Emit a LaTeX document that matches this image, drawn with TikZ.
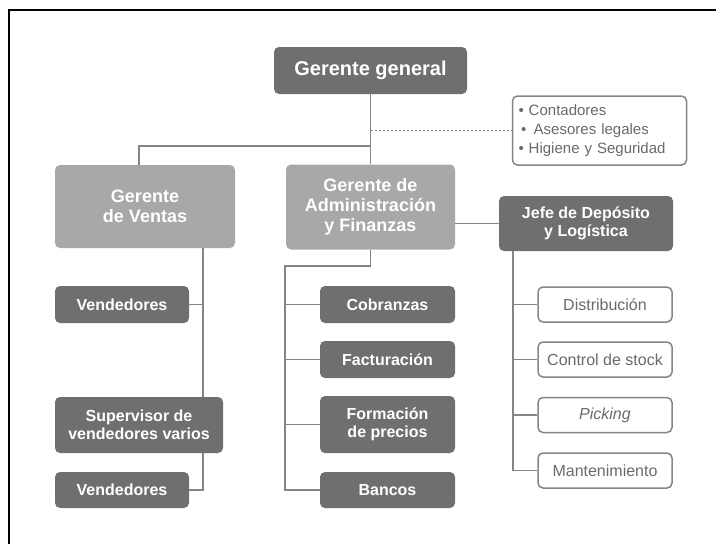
\documentclass[tikz,border=0pt]{standalone}
\usepackage{fontspec}
\setmainfont{Liberation Sans}
\definecolor{darkbox}{HTML}{6F6F6F}
\definecolor{lightbox}{HTML}{A8A8A8}
\definecolor{linegray}{HTML}{858585}
\definecolor{txtgray}{HTML}{6A6A6A}
\tikzset{
  box/.style={rounded corners=5pt, inner sep=0pt, align=center, text=white,
    font=\bfseries\fontsize{16}{18}\selectfont},
  darkb/.style={box, fill=darkbox},
  lightb/.style={box, fill=lightbox, font=\bfseries\fontsize{18}{20}\selectfont},
  whiteb/.style={box, draw=linegray, line width=1.5pt, fill=white, text=txtgray,
    font=\fontsize{16}{18}\selectfont},
  conn/.style={draw=linegray, line width=1.6pt},
  midb/.style={darkb, minimum width=135pt},
  rightb/.style={whiteb, minimum width=134pt, minimum height=35pt},
}
\begin{document}
\begin{tikzpicture}[x=1pt,y=-1pt]
\useasboundingbox (0,0) rectangle (716,544);
\draw[line width=1.6pt] (9,544) -- (9,10) -- (716,10);

% top
\node[darkb, minimum width=193pt, minimum height=47pt,
  font=\bfseries\fontsize{20}{22}\selectfont] (gg) at (370.5,70.5) {Gerente general};
\node[whiteb, align=left, text width=162pt, inner xsep=6pt, minimum height=69pt,
  font=\fontsize{15}{19}\selectfont] (notes) at (599.5,130.5)
  {• Contadores\\\,• \,Asesores legales\\• Higiene y Seguridad};

% second level
\node[lightb, minimum width=180pt, minimum height=83pt] (gv) at (145,206.5) {Gerente\\de Ventas};
\node[lightb, minimum width=169pt, minimum height=85pt] (gaf) at (370.5,207)
  {Gerente de\\Administración\\y Finanzas};
\node[darkb, minimum width=174pt, minimum height=55pt] (jefe) at (586,223.5)
  {Jefe de Depósito\\y Logística};

% left column
\node[darkb, minimum width=134pt, minimum height=37pt] (v1) at (122,304.5) {Vendedores};
\node[darkb, minimum width=168pt, minimum height=56pt] (sup) at (139,425)
  {Supervisor de\\vendedores varios};
\node[darkb, minimum width=134pt, minimum height=36pt] (v2) at (122,490) {Vendedores};

% middle column
\node[midb, minimum height=37pt] (cob) at (387.5,304.5) {Cobranzas};
\node[midb, minimum height=37pt] (fac) at (387.5,359.5) {Facturación};
\node[midb, minimum height=57pt] (form) at (387.5,424.5) {Formación\\de precios};
\node[midb, minimum height=36pt] (ban) at (387.5,490) {Bancos};

% right column
\node[rightb] (dis) at (605,304.5) {Distribución};
\node[rightb] (ctrl) at (605,359.5) {Control de stock};
\node[rightb] (pick) at (605,415) {\itshape Picking};
\node[rightb] (mant) at (605,470.5) {Mantenimiento};

% connectors
\coordinate (j1) at (370.5,146);
\coordinate (lx) at (203,0);
\coordinate (mx) at (285,0);
\coordinate (rx) at (513,0);

\draw[conn] (gg.south) -- (gaf.north);
\draw[conn] (j1) -| ([xshift=-6pt]gv.north);
\draw[conn, line width=1.3pt, dash pattern=on 2pt off 2pt] (gg.south |- notes.west) -- (notes.west);
\draw[conn] (gaf.east |- jefe.west) -- (jefe.west);

\draw[conn] (gv.south -| lx) -- (sup.north -| lx);
\draw[conn] (v1.east) -- (v1.east -| lx);
\draw[conn] (sup.south -| lx) |- (v2.east);

\draw[conn] (gaf.south) -- ++(0,16) -| (ban.west -| mx) -- (ban.west);
\foreach \n in {cob,fac,form} \draw[conn] (\n.west -| mx) -- (\n.west);

\draw[conn] (jefe.south -| rx) |- (mant.west);
\foreach \n in {dis,ctrl,pick} \draw[conn] (\n.west -| rx) -- (\n.west);
\end{tikzpicture}
\end{document}
